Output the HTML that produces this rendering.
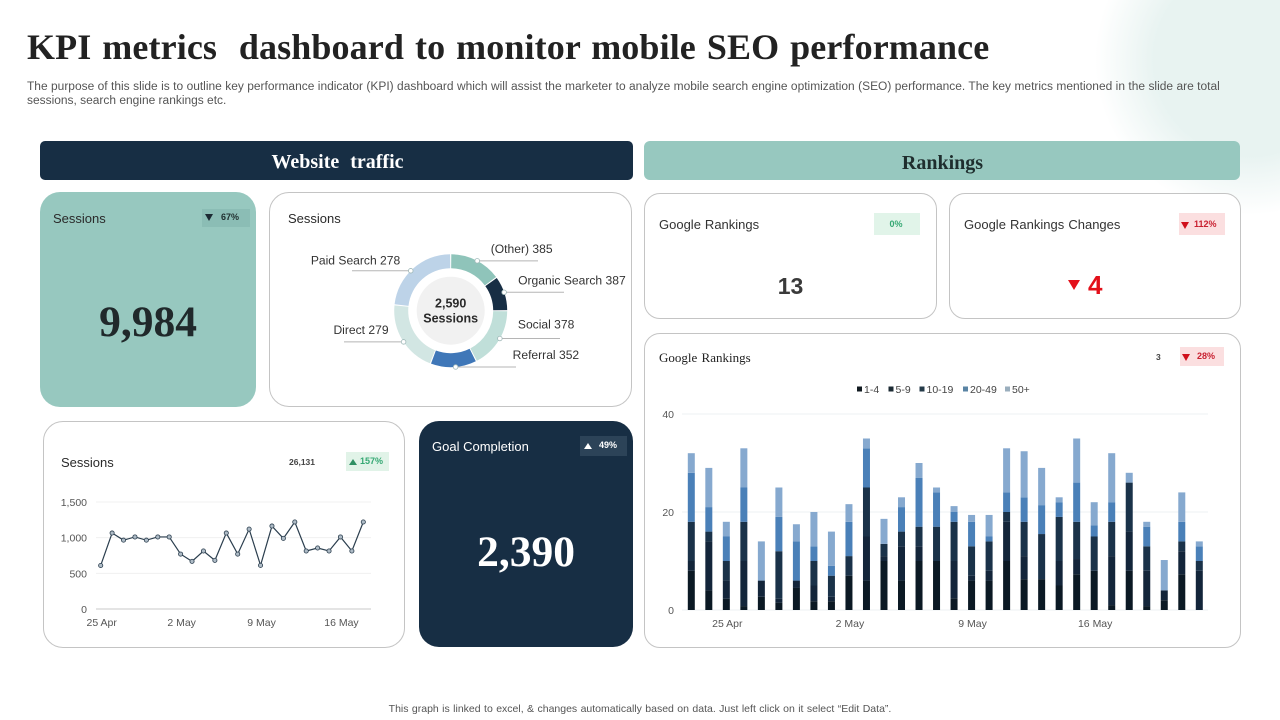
<!DOCTYPE html>
<html lang="en">
<head>
<meta charset="utf-8">
<title>KPI metrics dashboard</title>
<style>
html,body{margin:0;padding:0;background:#fff}
#slide{position:relative;width:1280px;height:720px;overflow:hidden;background:#fff;font-family:"Liberation Sans",sans-serif;color:#333}
#slide>*{position:absolute}
.t{position:absolute;white-space:nowrap;line-height:1}
.serif{font-family:"Liberation Serif",serif;font-weight:bold}
.card{box-sizing:border-box;background:#fff;border:1px solid #c4c4c4}
.badge{display:block}
.down{width:0;height:0;border-left:4.5px solid transparent;border-right:4.5px solid transparent;border-top:7px solid #1c2a33}
.up{width:0;height:0;border-left:4px solid transparent;border-right:4px solid transparent;border-bottom:6px solid #fff}
svg{position:absolute;left:0;top:0;overflow:visible}
svg text{font-family:"Liberation Sans",sans-serif}
</style>
</head>
<body>
<div id="slide">
  <div style="left:1095px;top:-95px;width:310px;height:310px;border-radius:50%;background:radial-gradient(circle closest-side,#e8f3f1 0,#e8f3f1 62%,rgba(232,243,241,0) 100%)"></div>

  <div class="t serif" style="left:27px;top:29px;font-size:36px;color:#222;word-spacing:1.8px;letter-spacing:.12px">KPI metrics&nbsp; dashboard to monitor mobile SEO performance</div>
  <div class="t" style="left:27px;top:81px;font-size:11.96px;color:#555;word-spacing:.11px">The purpose of this slide is to outline key performance indicator (KPI) dashboard which will assist the marketer to analyze mobile search engine optimization (SEO) performance. The key metrics mentioned in the slide are total</div>
  <div class="t" style="left:27px;top:95px;font-size:11.96px;color:#555">sessions, search engine rankings etc.</div>

  <div style="left:40px;top:141px;width:593px;height:39px;border-radius:5px;background:#172e44"></div>
  <div class="t serif" style="left:41px;top:152px;width:593px;text-align:center;font-size:20px;color:#fff;word-spacing:6px">Website traffic</div>
  <div style="left:644px;top:141px;width:596px;height:39px;border-radius:6px;background:#97c8bf"></div>
  <div class="t serif" style="left:644px;top:153px;width:597px;text-align:center;font-size:20px;color:#1f2e2e">Rankings</div>

  <div style="left:40px;top:192px;width:216px;height:215px;border-radius:20px;background:#97c8bf"></div>
  <div class="t" style="left:53px;top:212px;font-size:13px;color:#2a2a2a">Sessions</div>
  <div style="left:202px;top:209px;width:48px;height:18px;background:#8bbdb5"></div>
  <div class="down" style="left:205px;top:214px"></div>
  <div class="t" style="left:221px;top:213px;font-size:9px;font-weight:bold;color:#1f2e2e">67%</div>
  <div class="t serif" style="left:40px;top:301px;width:216px;text-align:center;font-size:43.5px;color:#20292b">9,984</div>

  <div class="card" style="left:269px;top:192px;width:363px;height:215px;border-radius:20px"></div>
  <div class="t" style="left:288px;top:212px;font-size:13px;color:#2a2a2a">Sessions</div>

  <div class="card" style="left:43px;top:421px;width:362px;height:227px;border-radius:20px"></div>
  <div class="t" style="left:61px;top:456px;font-size:13px;color:#2a2a2a">Sessions</div>
  <div class="t" style="left:289px;top:458px;font-size:8.5px;font-weight:bold;color:#444">26,131</div>
  <div style="left:346px;top:452px;width:43px;height:19px;background:#e1f3e8"></div>
  <div class="up" style="left:349px;top:459px;border-bottom-color:#2f8f63"></div>
  <div class="t" style="left:360px;top:457px;font-size:9px;font-weight:bold;color:#35a873">157%</div>

  <div style="left:419px;top:421px;width:214px;height:226px;border-radius:20px;background:#172e44"></div>
  <div class="t" style="left:432px;top:440px;font-size:13px;color:#fff">Goal Completion</div>
  <div style="left:580px;top:436px;width:47px;height:20px;background:#2c4358"></div>
  <div class="up" style="left:584px;top:443px"></div>
  <div class="t" style="left:599px;top:441px;font-size:9px;font-weight:bold;color:#fff">49%</div>
  <div class="t serif" style="left:419px;top:531px;width:214px;text-align:center;font-size:43.5px;color:#fff">2,390</div>

  <div class="card" style="left:644px;top:193px;width:293px;height:126px;border-radius:16px"></div>
  <div class="t" style="left:659px;top:218px;font-size:13px;color:#333;word-spacing:.4px">Google Rankings</div>
  <div style="left:874px;top:213px;width:46px;height:22px;background:#e1f4e9"></div>
  <div class="t" style="left:873px;top:220px;width:46px;text-align:center;font-size:9px;font-weight:bold;color:#35a873">0%</div>
  <div class="t" style="left:644px;top:275px;width:293px;text-align:center;font-size:23px;font-weight:bold;color:#3a3a3a">13</div>

  <div class="card" style="left:949px;top:193px;width:292px;height:126px;border-radius:16px"></div>
  <div class="t" style="left:964px;top:218px;font-size:13px;color:#333;word-spacing:.5px">Google Rankings Changes</div>
  <div style="left:1179px;top:213px;width:46px;height:22px;background:#fbdfe0"></div>
  <div class="down" style="left:1181px;top:222px;border-top-color:#d0101c"></div>
  <div class="t" style="left:1194px;top:220px;font-size:9px;font-weight:bold;color:#c92030">112%</div>
  <div class="down" style="left:1068px;top:280px;border-left-width:6px;border-right-width:6px;border-top:10px solid #e3101a"></div>
  <div class="t" style="left:1088px;top:272px;font-size:26px;font-weight:bold;color:#e3101a">4</div>

  <div class="card" style="left:644px;top:333px;width:597px;height:315px;border-radius:16px"></div>
  <div class="t" style="left:659px;top:351px;font-family:'Liberation Serif',serif;font-size:13px;color:#222;word-spacing:1px">Google Rankings</div>
  <div class="t" style="left:1156px;top:353px;font-size:8.5px;font-weight:bold;color:#444">3</div>
  <div style="left:1180px;top:347px;width:44px;height:19px;background:#fbdfe0"></div>
  <div class="down" style="left:1182px;top:354px;border-top-color:#d0101c"></div>
  <div class="t" style="left:1197px;top:352px;font-size:9px;font-weight:bold;color:#c92030">28%</div>

  <svg id="charts" width="1280" height="720" viewBox="0 0 1280 720"></svg>

  <div class="t" style="left:0;top:704px;width:1280px;text-align:center;font-size:10.5px;color:#555;word-spacing:.5px">This graph is linked to excel, &amp; changes automatically based on data. Just left click on it select “Edit Data”.</div>
</div>

<script>
// Donut data
const sliceNames = ['(Other)', 'Organic Search', 'Social', 'Referral', 'Direct', 'Paid Search'];
const sliceLabelValues = [385, 387, 378, 352, 279, 278];
const sliceArcValues = [54, 36, 63, 48, 75, 84];
const donutCentreValue = '2,590';
const donutCentreLabel = 'Sessions';

// Line chart data
const lineDates = ['25 Apr','26 Apr','27 Apr','28 Apr','29 Apr','30 Apr','1 May','2 May','3 May','4 May','5 May','6 May','7 May','8 May','9 May','10 May','11 May','12 May','13 May','14 May','15 May','16 May','17 May','18 May'];
const lineSessions = [610,1065,965,1010,965,1010,1010,770,668,813,682,1065,770,1120,612,1163,990,1220,813,855,813,1010,813,1220];
const lineTicks = [0, 500, 1000, 1500];
const lineDateLabels = ['25 Apr', '2 May', '9 May', '16 May'];

// Stacked bar chart data
const barDates = ['23 Apr','24 Apr','25 Apr','26 Apr','27 Apr','28 Apr','29 Apr','30 Apr','1 May','2 May','3 May','4 May','5 May','6 May','7 May','8 May','9 May','10 May','11 May','12 May','13 May','14 May','15 May','16 May','17 May','18 May','19 May','20 May','21 May','22 May'];
const rank1to4 = [8,4,2.3,0.8,2.7,1.5,4.5,1.8,1.8,7,6,10,6,10,10,2.4,6,6,10,6.3,6.3,5,7.3,8,1,8,0.8,2,7.3,0];
const rank5to9 = [2,10,3.7,9.2,3.3,0.8,1.5,3.2,0.9,0,9,1,7,3,0,7.6,1,2,8,4.7,0,5,3.1,0,10,8,7.2,2,4.7,8];
const rank10to19 = [8,2,4,8,0,9.7,0,5,4.3,4,10,2.5,3,4,7,8,6,6,2,7,9.2,9,7.6,7,7,10,5,0,2,2];
const rank20to49 = [10,5,5,7,0,7,8,3,2,7,8,0,5,10,7,2,5,1,4,5,5.9,3,8,2.3,4,0,4,0,4,3];
const rank50plus = [4,8,3,8,8,6,3.5,7,7,3.6,2,5.1,2,3,1,1.2,1.4,4.4,9,9.4,7.6,1,9,4.7,10,2,1,6.2,6,1];
const rankSeriesNames = ['1-4', '5-9', '10-19', '20-49', '50+'];
const rankTicks = [0, 20, 40];
const rankDateLabels = ['25 Apr', '2 May', '9 May', '16 May'];

const svg = document.getElementById('charts');
const NS = 'http://www.w3.org/2000/svg';
function mk(tag, attrs, text) {
  const el = document.createElementNS(NS, tag);
  for (const k in attrs) el.setAttribute(k, attrs[k]);
  if (text !== undefined) el.textContent = text;
  svg.appendChild(el);
  return el;
}

/* ---------- donut ---------- */
function drawDonut() {
  const cx = 450.7, cy = 310.7, R = 56.5, r = 42.5, gap = 0.6;
  const colors = ['#8fc4ba', '#172e44', '#c0dfd9', '#3f77b8', '#d2e6e3', '#bdd3e8'];
  const dotShift = [1, -1, -2, -2, -2, -3];
  const labelDx = [13.5, 14, 18, 57, -15, -10.5];
  const labelDy = [-8, -8, -10, -8, -8, -6];
  const lineEndX = [538, 564, 560, 516, 344, 352];
  const total = sliceArcValues.reduce((a, b) => a + b, 0);
  const pt = (rad, deg) => [cx + rad * Math.sin(deg * Math.PI / 180), cy - rad * Math.cos(deg * Math.PI / 180)];
  const hub = mk('circle', {cx: cx, cy: cy, r: 34, fill: '#f1f1f1'});
  
  
  let a = 0;
  sliceArcValues.forEach((v, i) => {
    const sweep = v / total * 360;
    const a0 = a + gap, a1 = a + sweep - gap;
    const mid = a + sweep / 2 + dotShift[i];
    const large = a1 - a0 > 180 ? 1 : 0;
    const p1 = pt(R, a0), p2 = pt(R, a1), p3 = pt(r, a1), p4 = pt(r, a0);
    const slice = mk('path', {d: `M${p1}A${R},${R} 0 ${large} 1 ${p2}L${p3}A${r},${r} 0 ${large} 0 ${p4}Z`, fill: colors[i]});
    
    
    const d = pt(R, mid);
    const leader = mk('line', {x1: d[0], y1: d[1], x2: lineEndX[i], y2: d[1], stroke: '#b5b5b5', 'stroke-width': 1});
    
    
    const dot = mk('circle', {cx: d[0], cy: d[1], r: 2.3, fill: '#fff', stroke: '#9fb8b8', 'stroke-width': 0.8});
    
    
    const lab = mk('text', {x: d[0] + labelDx[i], y: d[1] + labelDy[i], 'font-size': 12.1, fill: '#333', 'text-anchor': labelDx[i] < 0 ? 'end' : 'start'}, sliceNames[i] + ' ' + sliceLabelValues[i]);
    
    
    a += sweep;
  });
  const c1 = mk('text', {x: cx, y: cy - 3, 'font-size': 12.5, 'font-weight': 'bold', fill: '#2a2a2a', 'text-anchor': 'middle'}, donutCentreValue);
  
  
  const c2 = mk('text', {x: cx, y: cy + 12, 'font-size': 12.5, 'font-weight': 'bold', fill: '#2a2a2a', 'text-anchor': 'middle'}, donutCentreLabel);
  
  
}

/* ---------- line chart ---------- */
function drawLine() {
  const x0 = 100.7, x1 = 363.3, yBase = 609, pxPerUnit = 107 / 1500;
  const X = i => x0 + i * (x1 - x0) / (lineSessions.length - 1);
  const Y = v => yBase - v * pxPerUnit;
  lineTicks.forEach(t => {
    const g = mk('line', {x1: 96, x2: 371, y1: Y(t), y2: Y(t), stroke: t === 0 ? '#c8c8c8' : '#f0f0f0', 'stroke-width': 1});
    
    
    const l = mk('text', {x: 87, y: Y(t) + 4, 'font-size': 10.5, fill: '#555', 'text-anchor': 'end'}, t.toLocaleString('en-US'));
    
    
  });
  lineDateLabels.forEach(d => {
    const l = mk('text', {x: X(lineDates.indexOf(d)) + 1, y: 626, 'font-size': 10.5, fill: '#555', 'text-anchor': 'middle'}, d);
    
    
  });
  const path = mk('polyline', {points: lineSessions.map((v, i) => X(i) + ',' + Y(v)).join(' '), fill: 'none', stroke: '#2b3e4e', 'stroke-width': 1.2});
  
  
  lineSessions.forEach((v, i) => {
    const p = mk('circle', {cx: X(i), cy: Y(v), r: 2.1, fill: '#aebbc6', stroke: '#2b3e4e', 'stroke-width': 0.8});
    
    
  });
}

/* ---------- stacked bars ---------- */
function drawBars() {
  const x0 = 691.3, x1 = 1199.3, yBase = 610, pxPerUnit = 4.9, barW = 7;
  const X = i => x0 + i * (x1 - x0) / (barDates.length - 1);
  const Y = v => yBase - v * pxPerUnit;
  const series = [rank1to4, rank5to9, rank10to19, rank20to49, rank50plus];
  const colors = ['#0b1924', '#13253a', '#1a3249', '#4a80b8', '#86a9cf'];
  const legendColors = ['#111a20', '#1b2a33', '#243a48', '#5a84a4', '#9aaebd'];
  const legendX = [857, 888.5, 919.5, 963, 1005];
  rankTicks.forEach(t => {
    const g = mk('line', {x1: 682, x2: 1208, y1: Y(t), y2: Y(t), stroke: '#eef0f3', 'stroke-width': 1});
    
    
    const l = mk('text', {x: 674, y: Y(t) + 4, 'font-size': 10.5, fill: '#555', 'text-anchor': 'end'}, t);
    
    
  });
  barDates.forEach((d, i) => {
    let acc = 0;
    series.forEach((s, k) => {
      const v = s[i];
      if (v > 0) {
        const b = mk('rect', {x: X(i) - barW / 2, y: Y(acc + v), width: barW, height: v * pxPerUnit, fill: colors[k]});
        
        
      }
      acc += v;
    });
  });
  rankDateLabels.forEach(d => {
    const l = mk('text', {x: X(barDates.indexOf(d)) + 1, y: 627, 'font-size': 10.5, fill: '#555', 'text-anchor': 'middle'}, d);
    
    
  });
  rankSeriesNames.forEach((n, i) => {
    const sw = mk('rect', {x: legendX[i], y: 386.5, width: 5, height: 5, fill: legendColors[i]});
    
    
    const t = mk('text', {x: legendX[i] + 7, y: 393, 'font-size': 10.5, fill: '#444'}, n);
    
    
  });
}

drawDonut();
drawLine();
drawBars();
</script>
</body>
</html>
